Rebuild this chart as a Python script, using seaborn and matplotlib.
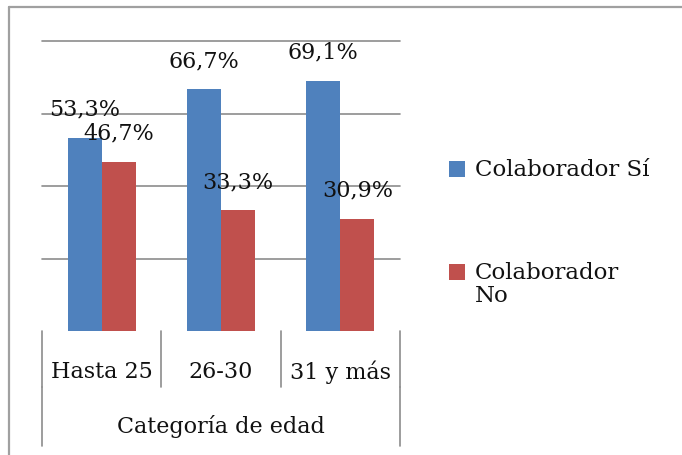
import matplotlib
matplotlib.use("Agg")
import matplotlib.pyplot as plt
import seaborn as sns
import pandas as pd
from matplotlib.lines import Line2D
from matplotlib.patches import Rectangle

categories = ["Hasta 25", "26-30", "31 y más"]
series_names = ["Colaborador Sí", "Colaborador No"]
si_values = [53.3, 66.7, 69.1]
no_values = [46.7, 33.3, 30.9]
legend_labels = ["Colaborador Sí", "Colaborador\nNo"]
axis_title = "Categoría de edad"

colors = ["#4F81BD", "#C0504D"]

df = pd.DataFrame({
    "cat": categories * 2,
    "serie": [series_names[0]] * 3 + [series_names[1]] * 3,
    "val": si_values + no_values,
})

sns.set_theme(style="white")
plt.rcParams["font.family"] = ["DejaVu Serif"]

W, H = 682, 456
fig = plt.figure(figsize=(W / 100, H / 100), dpi=100)
ax = fig.add_axes([42 / W, (H - 332) / H, (400 - 42) / W, (332 - 42) / H])

sns.barplot(data=df, x="cat", y="val", hue="serie", palette=colors,
            width=0.57, ax=ax, saturation=1, legend=False, order=categories,
            hue_order=series_names, linewidth=0)

ax.set_ylim(0, 80)
ax.set_xlim(-0.5, 2.5)
ax.set_yticks([20, 40, 60, 80])
ax.set_yticklabels([])
ax.tick_params(axis="y", length=0)
ax.yaxis.grid(True, color="#8C8C8C", linewidth=1.2)
for gl in ax.get_ygridlines():
    gl.set_clip_on(False)
ax.set_axisbelow(True)
for s in ax.spines.values():
    s.set_visible(False)
ax.set_xticks([])
ax.set_xlabel("")
ax.set_ylabel("")

fs = 16
tc = "#111111"
vals = [si_values, no_values]
for cont, vs in zip(ax.containers, vals):
    for bar, v in zip(cont, vs):
        ax.annotate(f"{v:.1f}".replace(".", ",") + "%",
                    (bar.get_x() + bar.get_width() / 2, bar.get_height()),
                    xytext=(0, 21), textcoords="offset points",
                    ha="center", va="center", fontsize=fs, color=tc)

# multi-level category axis
trans = ax.get_xaxis_transform()
ax_h = 332 - 42
y1 = -(388 - 332) / ax_h
y2 = -(447 - 332) / ax_h
gc = "#8C8C8C"
for xb in [-0.5, 0.5, 1.5, 2.5]:
    ax.add_line(Line2D([xb, xb], [0, y1], transform=trans, color=gc, lw=1.2, clip_on=False))
for xb in [-0.5, 2.5]:
    ax.add_line(Line2D([xb, xb], [y1, y2], transform=trans, color=gc, lw=1.2, clip_on=False))
for i, c in enumerate(categories):
    ax.text(i, -(372 - 332) / ax_h, c, transform=trans, ha="center", va="center",
            fontsize=fs, color=tc)
ax.text(1, -(427 - 332) / ax_h, axis_title, transform=trans, ha="center", va="center",
        fontsize=fs, color=tc)

# legend (drawn as a key of swatches and labels)
lfs = 16.5
sw_tops = [162, 265]
text_centers = [170.5, 284.5]
for col, lab, top, tcen in zip(colors, legend_labels, sw_tops, text_centers):
    fig.add_artist(Rectangle((449 / W, 1 - (top + 16) / H), 16 / W, 16 / H,
                             transform=fig.transFigure, color=col, lw=0))
    fig.text(475 / W, 1 - tcen / H, lab, ha="left", va="center", fontsize=lfs,
             color=tc, linespacing=1.05)

# outer chart border (top and left visible)
bc = "#A0A0A0"
fig.add_artist(Line2D([9 / W, 9 / W], [0, 1 - 8 / H], transform=fig.transFigure, color=bc, lw=1.6))
fig.add_artist(Line2D([9 / W, 1], [1 - 8 / H, 1 - 8 / H], transform=fig.transFigure, color=bc, lw=1.6))

fig.savefig("out.png", dpi=100)
